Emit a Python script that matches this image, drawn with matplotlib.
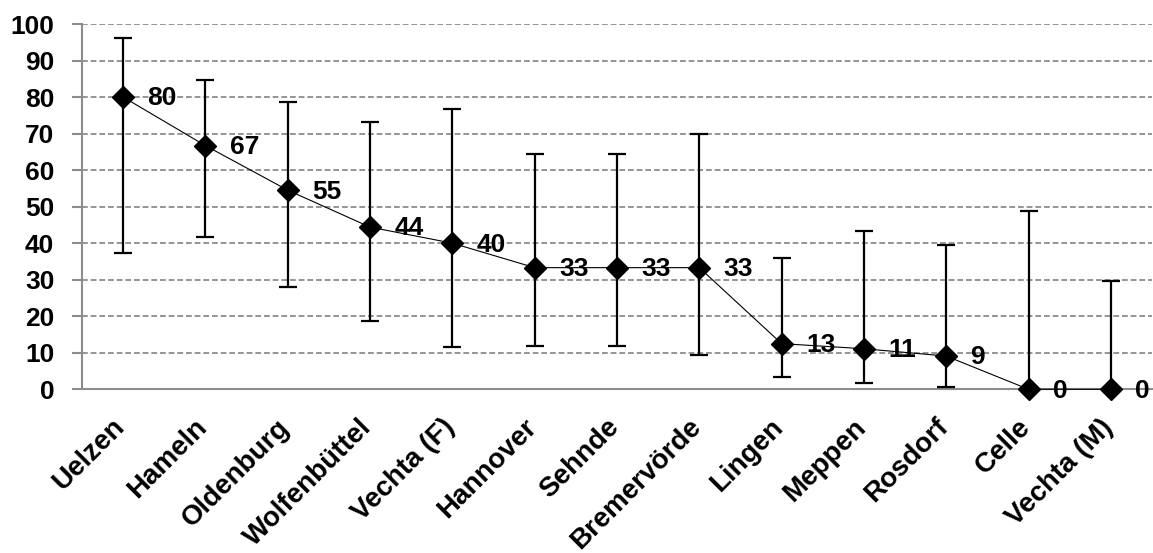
import matplotlib.pyplot as plt
from matplotlib.transforms import ScaledTranslation
import numpy as np

plt.rcParams['font.family'] = ['Liberation Sans', 'DejaVu Sans']

# datos
standorte = ["Uelzen", "Hameln", "Oldenburg", "Wolfenbüttel", "Vechta (F)", "Hannover",
             "Sehnde", "Bremervörde", "Lingen", "Meppen", "Rosdorf", "Celle", "Vechta (M)"]
werte = [80.0, 66.7, 54.5, 44.4, 40.0, 33.3, 33.3, 33.3, 12.5, 11.1, 9.1, 0.0, 0.0]
etiquetas = ["80", "67", "55", "44", "40", "33", "33", "33", "13", "11", "9", "0", "0"]
oben = [96.2, 84.6, 78.7, 73.2, 76.8, 64.4, 64.4, 69.9, 35.9, 43.4, 39.4, 48.9, 29.7]
unten = [37.4, 41.6, 27.9, 18.6, 11.7, 11.9, 11.9, 9.5, 3.3, 1.8, 0.7, 0.0, 0.0]

x = np.arange(len(standorte))
werte = np.array(werte)
err = [werte - np.array(unten), np.array(oben) - werte]

fig = plt.figure(figsize=(11.53, 5.53), dpi=100)
ax = fig.add_axes([82 / 1153, 163.7 / 553, 1070 / 1153, 365.3 / 553])

grau = "#8c8c8c"
ax.set_axisbelow(True)
ax.yaxis.grid(True, linestyle=(0, (3.2, 1.6)), color=grau, linewidth=1.3)

ax.errorbar(x, werte, yerr=err, fmt="none", ecolor="black", elinewidth=1.6,
            capsize=6.5, capthick=1.6, zorder=3)
ax.plot(x, werte, color="black", linewidth=0.8, marker="D", markersize=11,
        markerfacecolor="black", markeredgecolor="black", zorder=4, clip_on=False)

for xi, yi, t in zip(x, werte, etiquetas):
    ax.annotate(t, (xi, yi), xytext=(17.5, -1), textcoords="offset points",
                ha="left", va="center", fontsize=19, fontweight="bold", zorder=5,
                annotation_clip=False)

ax.set_xlim(-0.5, len(standorte) - 0.5)
ax.set_ylim(0, 100)
ax.set_yticks(np.arange(0, 101, 10))
ax.set_xticks(x)
ax.set_xticklabels(standorte, rotation=45, ha="right", va="baseline",
                   rotation_mode="anchor")

for s in ["top", "right"]:
    ax.spines[s].set_visible(False)
ax.spines["left"].set_color(grau)
ax.spines["bottom"].set_color(grau)
ax.spines["left"].set_linewidth(1.5)
ax.spines["bottom"].set_linewidth(1.5)

ax.tick_params(axis="y", length=7, color=grau, width=1.5, pad=13, labelsize=19)
ax.tick_params(axis="x", length=0, pad=28, labelsize=20)
desplaz = ScaledTranslation(3 / 100, 0, fig.dpi_scale_trans)
for lab in ax.get_xticklabels():
    lab.set_transform(lab.get_transform() + desplaz)
for lab in ax.get_xticklabels() + ax.get_yticklabels():
    lab.set_fontweight("bold")

fig.savefig("out.png", dpi=100)
